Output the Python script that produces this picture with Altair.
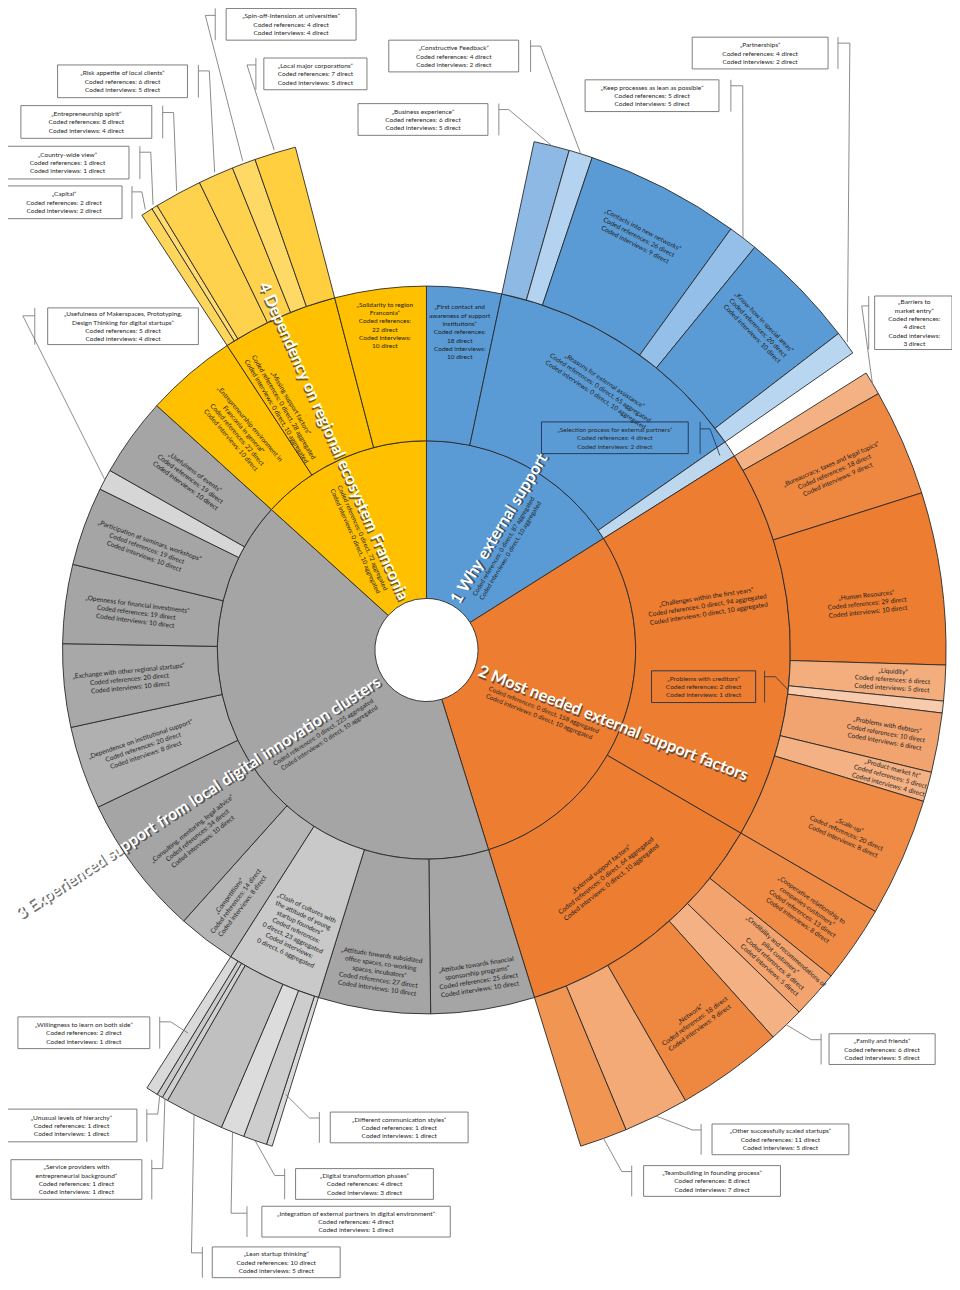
import math
import altair as alt
import pandas as pd

# ---------------- values ----------------
main_names = ["1 Why external support",
              "2 Most needed external support factors",
              "3 Experienced support from local digital innovation clusters",
              "4 Dependency on regional ecosystem Franconia"]
main_interviews = [10, 10, 10, 10]

l2_names = [
    "First contact and awareness of support institutions",
    "Reasons for external assistance",
    "Selection process for external partners",
    "Challenges within the first years",
    "External support factors",
    "Attitude towards financial sponsorship programs",
    "Attitude towards subsidized office spaces, co-working spaces, incubators",
    "Clash of cultures with the attitude of young startup founders",
    "Competitions",
    "Consulting, mentoring, legal advice",
    "Dependence on institutional support",
    "Exchange with other regional startups",
    "Openness for financial investments",
    "Participation at seminars, workshops",
    "Usefulness of Makerspaces, Prototyping, Design Thinking for digital startups",
    "Usefulness of events",
    "Entrepreneurship environment in Franconia in general",
    "Missing support factors",
    "Solidarity to region Franconia",
]
l2_parent = [0, 0, 0, 1, 1, 2, 2, 2, 2, 2, 2, 2, 2, 2, 2, 2, 3, 3, 3]
l2_direct = [18, 0, 4, 0, 0, 25, 27, 0, 14, 34, 20, 20, 19, 19, 5, 19, 22, 0, 22]
l2_interviews = [10, 10, 2, 10, 10, 10, 10, 6, 8, 10, 8, 10, 10, 10, 4, 10, 10, 10, 10]

l3_names = [
    "Business experience", "Constructive Feedback", "Contacts into new networks",
    "Keep processes as lean as possible", "Know-how in special areas", "Partnerships",
    "Barriers to market entry", "Bureaucracy, taxes and legal topics", "Human Resources",
    "Liquidity", "Problems with creditors", "Problems with debtors", "Product-market fit",
    "Scale-up",
    "Cooperative relationship to companies-customers",
    "Credibility and recommendations of pilot customers", "Family and friends", "Network",
    "Other successfully scaled startups", "Teambuilding in founding process",
    "Different communication styles", "Digital transformation phases",
    "Integration of external partners in digital environment", "Lean startup thinking",
    "Service providers with entrepreneurial background", "Unusual levels of hierarchy",
    "Willingness to learn on both side",
    "Capital", "Country-wide view", "Entrepreneurship spirit",
    "Risk appetite of local clients", "Spin-off-Intension at universities",
    "Local major corporations",
]
l3_parent = (["Reasons for external assistance"] * 6
             + ["Challenges within the first years"] * 8
             + ["External support factors"] * 6
             + ["Clash of cultures with the attitude of young startup founders"] * 7
             + ["Missing support factors"] * 6)
l3_refs = [6, 4, 26, 5, 20, 4,
           4, 18, 29, 6, 2, 10, 5, 20,
           13, 8, 6, 18, 11, 8,
           1, 4, 4, 10, 1, 1, 2,
           2, 1, 8, 6, 4, 7]
l3_interviews = [5, 2, 9, 5, 10, 2,
                 3, 9, 10, 5, 1, 6, 4, 8,
                 8, 5, 5, 9, 5, 7,
                 1, 3, 1, 5, 1, 1, 1,
                 2, 1, 4, 5, 4, 5]

# ---------------- styling / layout (not data) ----------------
PAGE = 8
CX, CY = 430 - PAGE, 650 - PAGE
RADII = {1: (52, 211), 2: (211, 367), 3: (367, 524)}
LH = 8.4  # line height of small labels
BASE = ["#5B9BD5", "#ED7D31", "#A5A5A5", "#FFC000"]
COLORS = {
    "Selection process for external partners": "#BDD7EE",
    "Business experience": "#8DB9E4", "Constructive Feedback": "#B4D3F0",
    "Keep processes as lean as possible": "#93BFE8", "Partnerships": "#B9D6F1",
    "Barriers to market entry": "#F4B183", "Bureaucracy, taxes and legal topics": "#EE8740",
    "Liquidity": "#F4AE7E", "Problems with creditors": "#F8CBAD",
    "Problems with debtors": "#F2A470", "Product-market fit": "#F4B183",
    "Scale-up": "#EF8B45", "Cooperative relationship to companies-customers": "#EF8B45",
    "Credibility and recommendations of pilot customers": "#F3A46E",
    "Family and friends": "#F4B183", "Network": "#EE873F",
    "Other successfully scaled startups": "#F4AA76",
    "Teambuilding in founding process": "#F09552",
    "Clash of cultures with the attitude of young startup founders": "#C9C9C9",
    "Competitions": "#B5B5B5", "Dependence on institutional support": "#B0B0B0",
    "Exchange with other regional startups": "#A8A8A8",
    "Usefulness of Makerspaces, Prototyping, Design Thinking for digital startups": "#D6D6D6",
    "Different communication styles": "#D9D9D9", "Digital transformation phases": "#CDCDCD",
    "Integration of external partners in digital environment": "#DCDCDC",
    "Lean startup thinking": "#C0C0C0",
    "Service providers with entrepreneurial background": "#D0D0D0",
    "Unusual levels of hierarchy": "#CACACA", "Willingness to learn on both side": "#D9D9D9",
    "Capital": "#FFD65C", "Country-wide view": "#FFDB70", "Entrepreneurship spirit": "#FFD24D",
    "Risk appetite of local clients": "#FFD24D",
    "Spin-off-Intension at universities": "#FFD966", "Local major corporations": "#FFCF40",
}
TITLES = {
    "First contact and awareness of support institutions": "First contact and\nawareness of support\ninstitutions",
    "Barriers to market entry": "Barriers to\nmarket entry",
    "Cooperative relationship to companies-customers": "Cooperative relationship to\ncompanies-customers",
    "Credibility and recommendations of pilot customers": "Credibility and recommendations of\npilot customers",
    "Attitude towards financial sponsorship programs": "Attitude towards financial\nsponsorship programs",
    "Attitude towards subsidized office spaces, co-working spaces, incubators": "Attitude towards subsidized\noffice spaces, co-working\nspaces, incubators",
    "Clash of cultures with the attitude of young startup founders": "Clash of cultures with\nthe attitude of young\nstartup founders",
    "Usefulness of Makerspaces, Prototyping, Design Thinking for digital startups": "Usefulness of Makerspaces, Prototyping,\nDesign Thinking for digital startups",
    "Service providers with entrepreneurial background": "Service providers with\nentrepreneurial background",
    "Entrepreneurship environment in Franconia in general": "Entrepreneurship environment in\nFranconia in general",
    "Solidarity to region Franconia": "Solidarity to region\nFranconia",
}
NARROW = {"First contact and awareness of support institutions", "Barriers to market entry",
          "Clash of cultures with the attitude of young startup founders",
          "Solidarity to region Franconia"}
# in-segment labels: (orientation, angle override in degrees or None, label radius)
LABEL_POS = {
    "First contact and awareness of support institutions": ("h", None, 322),
    "Reasons for external assistance": ("t", None, 317),
    "Contacts into new networks": ("t", None, 468),
    "Know-how in special areas": ("t", None, 466),
    "Challenges within the first years": ("r", 81, 287),
    "External support factors": ("t", None, 291),
    "Bureaucracy, taxes and legal topics": ("r", None, 449),
    "Human Resources": ("r", 84, 447),
    "Liquidity": ("r", None, 471),
    "Problems with debtors": ("r", None, 471),
    "Product-market fit": ("r", None, 485),
    "Scale-up": ("r", None, 462),
    "Cooperative relationship to companies-customers": ("r", None, 463),
    "Credibility and recommendations of pilot customers": ("r", None, 473),
    "Network": ("t", None, 462),
    "Attitude towards financial sponsorship programs": ("t", None, 334),
    "Attitude towards subsidized office spaces, co-working spaces, incubators": ("t", None, 328),
    "Clash of cultures with the attitude of young startup founders": ("t", None, 312),
    "Competitions": ("r", None, 318),
    "Consulting, mentoring, legal advice": ("r", 231, 297),
    "Dependence on institutional support": ("r", None, 302),
    "Exchange with other regional startups": ("r", None, 301),
    "Openness for financial investments": ("r", None, 295),
    "Participation at seminars, workshops": ("r", None, 300),
    "Usefulness of events": ("r", None, 294),
    "Entrepreneurship environment in Franconia in general": ("r", None, 289),
    "Missing support factors": ("r", 329.5, 284),
    "Solidarity to region Franconia": ("h", None, 330),
}
# main labels: (angle in degrees, anchor radius, align side)
MAIN_POS = [(31, 56, "left"), (111.5, 57, "left"), (237, 57, "right"), (336, 56, "right")]
# callout boxes in page pixels: x0, y0, x1, y1, bar x, elbow y, elbow x, target radius, inside
CALLOUTS = {
    "Spin-off-Intension at universities": (228, 3, 359, 35, 217, 10, 207, 527, False),
    "Local major corporations": (266, 53, 370, 85, 258, 60, 249, 527, False),
    "Risk appetite of local clients": (58, 60, 189, 93, 200, 66, 211, 527, False),
    "Entrepreneurship spirit": (21, 101, 153, 134, 164, 108, 175, 527, False),
    "Country-wide view": (6, 142, 130, 175, 141, 148, 152, 527, False),
    "Capital": (6, 182, 123, 215, 133, 188, 143, 527, False),
    "Usefulness of Makerspaces, Prototyping, Design Thinking for digital startups": (48, 305, 200, 342, 35, 313, 23, 367, False),
    "Constructive Feedback": (392, 35, 523, 67, 535, 41, 545, 524, False),
    "Business experience": (361, 99, 492, 131, 503, 105, 513, 524, False),
    "Keep processes as lean as possible": (590, 75, 725, 107, 737, 81, 749, 524, False),
    "Partnerships": (698, 32, 835, 64, 845, 38, 857, 526, False),
    "Barriers to market entry": (882, 293, 962, 347, 876, 303, 869, 524, False),
    "Selection process for external partners": (546, 420, 694, 452, 706, 427, 716, 355, True),
    "Problems with creditors": (657, 671, 762, 703, 771, 677, 782, 367, True),
    "Family and friends": (836, 1037, 943, 1068, 828, 1043, 818, 524, False),
    "Other successfully scaled startups": (718, 1128, 856, 1159, 707, 1134, 698, 524, False),
    "Teambuilding in founding process": (649, 1170, 787, 1201, 637, 1176, 627, 524, False),
    "Willingness to learn on both side": (18, 1020, 151, 1052, 161, 1025, 172, 455, False),
    "Unusual levels of hierarchy": (6, 1113, 138, 1146, 148, 1118, 159, 524, False),
    "Service providers with entrepreneurial background": (11, 1164, 143, 1204, 153, 1173, 164, 524, False),
    "Lean startup thinking": (214, 1252, 343, 1283, 204, 1258, 193, 524, False),
    "Integration of external partners in digital environment": (264, 1211, 454, 1242, 249, 1218, 233, 524, False),
    "Digital transformation phases": (298, 1173, 437, 1204, 287, 1180, 277, 524, False),
    "Different communication styles": (333, 1116, 472, 1147, 322, 1122, 312, 470, False),
}

# ---------------- hierarchy -> angular extents ----------------
ref3 = dict(zip(l3_names, l3_refs))
int3 = dict(zip(l3_names, l3_interviews))
children = {n: [c for c, p in zip(l3_names, l3_parent) if p == n] for n in l2_names}
agg2 = {n: d + sum(ref3[c] for c in children[n]) for n, d in zip(l2_names, l2_direct)}
int2 = dict(zip(l2_names, l2_interviews))
agg1 = [sum(agg2[n] for n, p in zip(l2_names, l2_parent) if p == i) for i in range(4)]
TOTAL = sum(agg1)


def label_text(name, refs, ints):
    t = "\u201e" + TITLES.get(name, name) + "\u201c"
    if name in NARROW:
        return f"{t}\nCoded references:\n{refs}\nCoded interviews:\n{ints}"
    return f"{t}\nCoded references: {refs}\nCoded interviews: {ints}"


rows = []
pos = 0
for i, m in enumerate(main_names):
    rows.append(dict(level=1, name=m, t0=pos, t1=pos + agg1[i], group=i, text=""))
    p2 = pos
    for n, p in zip(l2_names, l2_parent):
        if p != i:
            continue
        if children[n]:
            txt = label_text(n, f"0 direct, {agg2[n]} aggregated", f"0 direct, {int2[n]} aggregated")
        else:
            txt = label_text(n, f"{agg2[n]} direct", f"{int2[n]} direct")
        rows.append(dict(level=2, name=n, t0=p2, t1=p2 + agg2[n], group=i, text=txt))
        p3 = p2
        for c in children[n]:
            rows.append(dict(level=3, name=c, t0=p3, t1=p3 + ref3[c], group=i,
                             text=label_text(c, f"{ref3[c]} direct", f"{int3[c]} direct")))
            p3 += ref3[c]
        p2 += agg2[n]
    pos += agg1[i]

df = pd.DataFrame(rows)
df["ri"] = df["level"].map(lambda l: RADII[l][0])
df["ro"] = df["level"].map(lambda l: RADII[l][1])
df["fill"] = [COLORS.get(n, BASE[g]) for n, g in zip(df["name"], df["group"])]
df["mid_deg"] = (df["t0"] + df["t1"]) / 2 / TOTAL * 360

# in-segment labels (multi-line blocks centred on their anchor)
lab = []
for _, r in df.iterrows():
    if r["name"] not in LABEL_POS:
        continue
    mode, over, rad = LABEL_POS[r["name"]]
    th = over if over is not None else r["mid_deg"]
    if mode == "h":
        rot = 0
    elif mode == "r":
        rot = th - 90 if th < 180 else th - 270
    else:
        rot = th if (th <= 90 or th >= 270) else th - 180
    n_lines = r["text"].count("\n") + 1
    s = (n_lines - 1) * LH / 2
    a, p = math.radians(th), math.radians(rot)
    px, py = rad * math.sin(a) + s * math.sin(p), -rad * math.cos(a) - s * math.cos(p)
    r2 = math.hypot(px, py)
    th2 = math.degrees(math.atan2(px, -py)) % 360
    lab.append(dict(tm=th2 / 360 * TOTAL, rl=r2, rot=rot % 360, label=r["text"]))
lab_df = pd.DataFrame(lab)

# main labels
main_rows = []
for i, m in enumerate(main_names):
    th, rad, side = MAIN_POS[i]
    rot = th - 90 if side == "left" else th - 270
    main_rows.append(dict(tm=th / 360 * TOTAL, rl=rad, rl2=rad + 16, rot=rot % 360, side=side,
                          label=m,
                          sub=f"Coded references: 0 direct, {agg1[i]} aggregated\n"
                              f"Coded interviews: 0 direct, {main_interviews[i]} aggregated"))
main_df = pd.DataFrame(main_rows)

# callouts
mid_of = dict(zip(df["name"], df["mid_deg"]))
ref_of = {**{n: agg2[n] for n in l2_names}, **ref3}
int_of = {**int2, **int3}
boxes, segs = [], []
for name, (x0, y0, x1, y1, bx, ey, ex, tr, inside) in CALLOUTS.items():
    col = "#1f2f4f" if inside else "#6e6e6e"
    txt = label_text(name, f"{ref_of[name]} direct", f"{int_of[name]} direct")
    n_lines = txt.count("\n") + 1
    boxes.append(dict(x0=x0 - PAGE, x1=min(x1, 960) - PAGE, y0=y0 - PAGE, y1=y1 - PAGE,
                      xc=(x0 + x1) / 2 - PAGE,
                      yc=(y0 + y1) / 2 - PAGE - (n_lines - 1) * LH / 2 + 0.5,
                      col=col, label=txt))
    a = math.radians(mid_of[name])
    tx, ty = CX + tr * math.sin(a), CY - tr * math.cos(a)
    segs.append(dict(x=bx - PAGE, y=y0 - PAGE, x2=bx - PAGE, y2=y1 - PAGE, col=col))
    segs.append(dict(x=bx - PAGE, y=ey - PAGE, x2=ex - PAGE, y2=ey - PAGE, col=col))
    segs.append(dict(x=ex - PAGE, y=ey - PAGE, x2=tx, y2=ty, col=col))
box_df = pd.DataFrame(boxes)
seg_df = pd.DataFrame(segs)

# ---------------- chart ----------------
theta_scale = alt.Scale(domain=[0, TOTAL], range=[0, 2 * math.pi])
center = dict(x=alt.value(CX), y=alt.value(CY))

arcs = alt.Chart(df).mark_arc(stroke="#2a2a2a", strokeWidth=0.9).encode(
    theta=alt.Theta("t0:Q", scale=theta_scale, stack=None),
    theta2="t1:Q",
    radius=alt.Radius("ri:Q", scale=None),
    radius2="ro:Q",
    color=alt.Color("fill:N", scale=None),
    **center,
)

seg_text = alt.Chart(lab_df).mark_text(
    font="Lato", fontSize=6.6, lineHeight=LH, lineBreak="\n", color="#1e1e1e",
    align="center", baseline="middle").encode(
    theta=alt.Theta("tm:Q", scale=theta_scale, stack=None),
    radius=alt.Radius("rl:Q", scale=None),
    angle=alt.Angle("rot:Q", scale=None),
    text="label:N",
    **center,
)

main_layers = []
for side in ["left", "right"]:
    sub = main_df[main_df["side"] == side]
    enc = dict(theta=alt.Theta("tm:Q", scale=theta_scale, stack=None),
               radius=alt.Radius("rl:Q", scale=None),
               angle=alt.Angle("rot:Q", scale=None), **center)
    shadow = alt.Chart(sub).mark_text(font="Lato", fontWeight="bold", fontSize=16.5,
                                      color="#333333", opacity=0.7, align=side,
                                      baseline="middle", dx=1.4, dy=1.8).encode(text="label:N", **enc)
    white = alt.Chart(sub).mark_text(font="Lato", fontWeight="bold", fontSize=16.5,
                                     color="white", align=side,
                                     baseline="middle").encode(text="label:N", **enc)
    enc2 = dict(enc)
    enc2["radius"] = alt.Radius("rl2:Q", scale=None)
    subl = alt.Chart(sub).mark_text(font="Lato", fontSize=6.3, lineHeight=8, lineBreak="\n",
                                    color="#222222", align=side, baseline="middle",
                                    dy=13).encode(text="sub:N", **enc2)
    main_layers += [shadow, white, subl]

leaders = alt.Chart(seg_df).mark_rule(strokeWidth=0.8).encode(
    x=alt.X("x:Q", scale=None), y=alt.Y("y:Q", scale=None),
    x2="x2:Q", y2="y2:Q", color=alt.Color("col:N", scale=None))

box_marks = alt.Chart(box_df).mark_rect(fillOpacity=0, strokeWidth=0.9).encode(
    x=alt.X("x0:Q", scale=None), x2="x1:Q", y=alt.Y("y0:Q", scale=None), y2="y1:Q",
    stroke=alt.Stroke("col:N", scale=None))

box_text = alt.Chart(box_df).mark_text(
    font="Lato", fontSize=6.6, lineHeight=LH, lineBreak="\n", color="#2a2a2a",
    align="center", baseline="middle").encode(
    x=alt.X("xc:Q", scale=None), y=alt.Y("yc:Q", scale=None), text="label:N")

chart = alt.layer(arcs, seg_text, *main_layers, leaders, box_marks, box_text).properties(
    width=952, height=1282, padding=0,
    autosize=alt.AutoSizeParams(type="none"),
).configure_view(stroke=None)

chart.save("out.html", embed_options={"renderer": "svg", "actions": False})
